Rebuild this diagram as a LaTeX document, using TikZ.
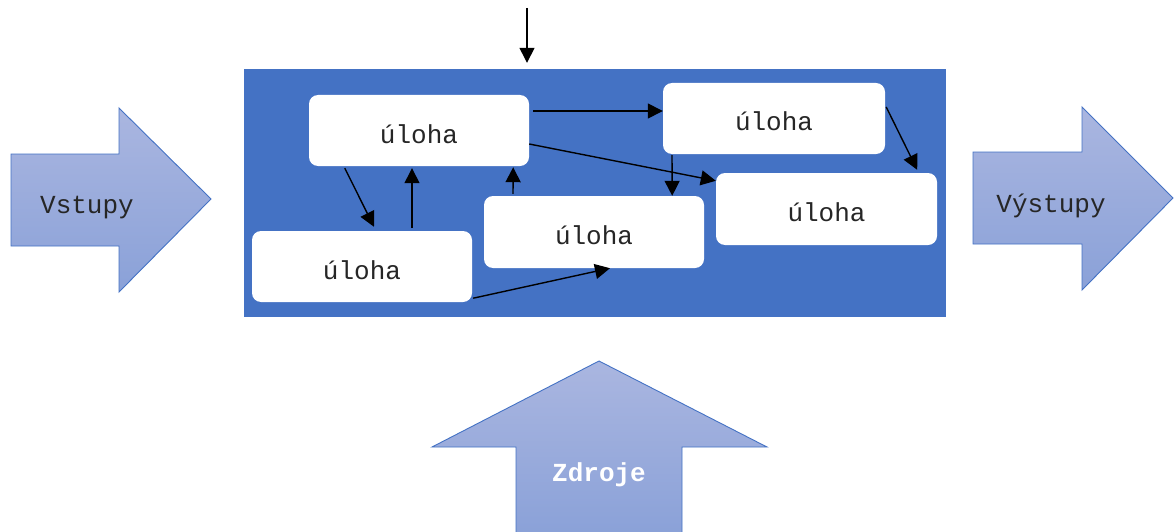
\documentclass[tikz,border=0pt]{standalone}
\usepackage{fontspec}
\newfontfamily\cour{Liberation Mono}
\usetikzlibrary{arrows.meta}
\definecolor{pblue}{HTML}{4472C4}
\definecolor{gtop}{HTML}{AAB6E0}
\definecolor{gbot}{HTML}{8AA1D8}
\begin{document}
\begin{tikzpicture}[x=1pt,y=-1pt,
  task/.style={fill=white, rounded corners=9pt, minimum width=220pt, minimum height=71pt,
    inner sep=0pt, text height=25pt, text depth=0pt,
    font=\cour\fontsize{26}{30}\selectfont, text=black!85},
  arr/.style={line width=1.4pt, -{Triangle[length=15pt,width=15pt]}},
  big/.style={top color=gtop, bottom color=gbot, draw=pblue, line width=0.9pt, line join=miter},
  bigtext/.style={anchor=base, inner sep=0pt, font=\cour\fontsize{26}{30}\selectfont, text=black!85}]
\useasboundingbox (0,0) rectangle (1174,532);
\fill[white] (0,0) rectangle (1174,532);
% main process rectangle
\node[fill=pblue, minimum width=702pt, minimum height=248pt, inner sep=0pt] (P) at (595,193) {};
% tasks
\node[task] (A) at (419,130.5) {úloha};
\node[task] (B) at (362,266.5) {úloha};
\node[task, minimum height=72pt] (C) at (594,232) {úloha};
\node[task, minimum width=222pt] (D) at (774,118.5) {úloha};
\node[task, minimum width=221pt, minimum height=72pt] (E) at (826.5,209) {úloha};
% connectors
\draw[arr] ([xshift=4pt,yshift=19.5pt]A.east) -- ([yshift=7.5pt]D.west);
\draw[arr] ([yshift=-13.5pt]A.east) -- ([yshift=-8pt]E.north west);
\draw[arr] ([xshift=36pt,yshift=-2pt]A.south west) -- ([xshift=12pt,yshift=4pt]B.north);
\draw[arr] ([xshift=50pt,yshift=3pt]B.north) -- ([xshift=-7pt,yshift=-2pt]A.south);
\draw[arr] ([xshift=-81pt,yshift=2pt]C.north) -- ([xshift=-16pt,yshift=-1pt]A.south east);
\draw[arr] ([xshift=1pt,yshift=4pt]B.south east) -- ([xshift=16pt]C.south);
\draw[arr] ([xshift=-102pt,yshift=-1pt]D.south) -- ([xshift=-32pt]C.north east);
\draw[arr] ([xshift=1pt,yshift=11.5pt]D.east) -- ([xshift=-20pt,yshift=3pt]E.north east);
\coordinate (topin) at (527,8);
\draw[arr] (topin) -- ([xshift=-68pt,yshift=6pt]P.north);
% big arrows
\path[big] (11,154) -- (119,154) -- (119,108) -- (211,199) -- (119,292) -- (119,246) -- (11,246) -- cycle;
\path[big] (973,152) -- (1082,152) -- (1082,107) -- (1173,198) -- (1082,290) -- (1082,244) -- (973,244) -- cycle;
\path[big] (516,536) -- (516,447) -- (432,447) -- (599,361) -- (767,447) -- (682,447) -- (682,536) -- cycle;
\node[bigtext] (vin) at (87,213) {Vstupy};
\node[bigtext] (vout) at (1051,212) {Výstupy};
\node[bigtext, text=white, font=\cour\bfseries\fontsize{26}{30}\selectfont] (res) at (599,481) {Zdroje};
\end{tikzpicture}
\end{document}
